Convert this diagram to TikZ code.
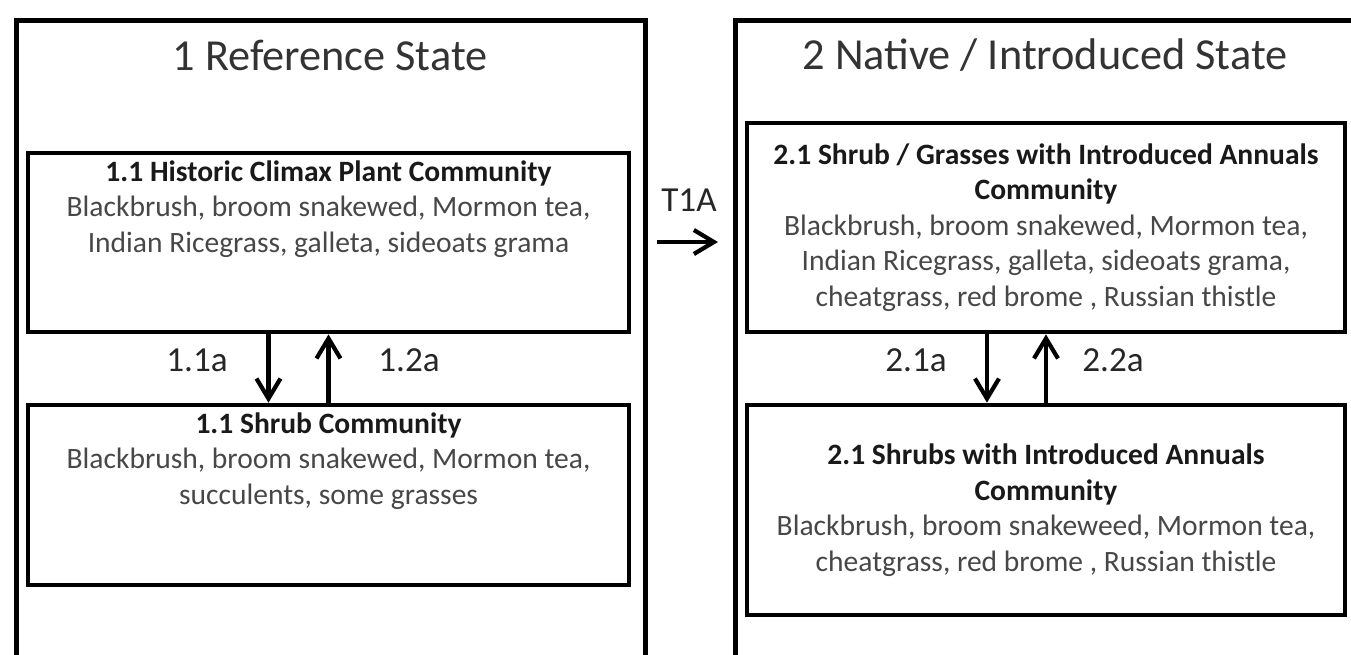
\documentclass[tikz,border=0pt]{standalone}
\usepackage{fontspec}
\setmainfont{Carlito}
\usetikzlibrary{positioning,arrows.meta}

\begin{document}
\begin{tikzpicture}[x=0.01cm,y=-0.01cm,
  frame/.style={draw,line width=1.3pt,inner sep=0pt},
  commbox/.style={draw,line width=1.3pt,inner sep=0pt,minimum width=6.01cm},
  commtxt/.style={align=center,inner sep=0pt,text=black!72,font=\fontsize{8.4}{10.1}\selectfont},
  ttl/.style={inner sep=0pt,text=black!80,font=\fontsize{12.6}{15}\selectfont},
  lbl/.style={inner sep=0pt,text=black!85,font=\fontsize{10}{12}\selectfont},
  trans/.style={-{Straight Barb[length=2mm,width=2.4mm]},line width=1.2pt}]
\useasboundingbox (0,0) rectangle (1351,654);
\clip (0,0) rectangle (1351,654);
% state frames (cut off by the page)
\node[frame,minimum width=6.29cm,minimum height=7cm,anchor=north west] (st1) at (14,18) {};
\node[frame,minimum width=7cm,minimum height=7cm,anchor=north west] (st2) at (733,18) {};
\node[ttl] (t1) at (330,55) {1 Reference State};
\node[ttl] (t2) at (1045,55) {2 Native / Introduced State};
% community phases
\node[commbox,minimum height=1.79cm] (hcpc) at (328.5,242.5) {};
\node[commbox,minimum height=1.80cm] (shrub) at (328.5,495) {};
\node[commbox,minimum width=5.98cm,minimum height=2.09cm] (sgia) at (1046,227.5) {};
\node[commbox,minimum width=5.98cm,minimum height=2.10cm] (shia) at (1046,510) {};
\node[commtxt,below=0.09cm of hcpc.north] (hcpctxt)
  {{\color{black!90}\textbf{1.1 Historic Climax Plant Community}}\\
   Blackbrush, broom snakewed, Mormon tea,\\
   Indian Ricegrass, galleta, sideoats grama};
\node[commtxt,below=0.09cm of shrub.north] (shrubtxt)
  {{\color{black!90}\textbf{1.1 Shrub Community}}\\
   Blackbrush, broom snakewed, Mormon tea,\\
   succulents, some grasses};
\node[commtxt] (sgiatxt) at (sgia)
  {{\color{black!90}\textbf{2.1 Shrub / Grasses with Introduced Annuals}}\\
   {\color{black!90}\textbf{Community}}\\
   Blackbrush, broom snakewed, Mormon tea,\\
   Indian Ricegrass, galleta, sideoats grama,\\
   cheatgrass, red brome , Russian thistle};
\node[commtxt] (shiatxt) at (shia)
  {{\color{black!90}\textbf{2.1 Shrubs with Introduced Annuals}}\\
   {\color{black!90}\textbf{Community}}\\
   Blackbrush, broom snakeweed, Mormon tea,\\
   cheatgrass, red brome , Russian thistle};
% pathways
\draw[trans] ([xshift=-0.6cm]hcpc.south) -- ([xshift=-0.6cm]shrub.north);
\draw[trans] (shrub.north) -- (hcpc.south);
\draw[trans] ([xshift=-0.59cm]sgia.south) -- ([xshift=-0.59cm]shia.north);
\draw[trans] (shia.north) -- (sgia.south);
\foreach \nm/\xx/\tx in {p11/197/1.1a,p12/409/1.2a,p21/916/2.1a,p22/1113/2.2a}
  {\node[lbl] (\nm) at (\xx,360) {\tx};}
% transition
\node[lbl] (t1a) at (689,200) {T1A};
\coordinate (t1s) at (657,242);
\coordinate (t1e) at (718,242);
\draw[trans] (t1s) -- (t1e);
\end{tikzpicture}
\end{document}
